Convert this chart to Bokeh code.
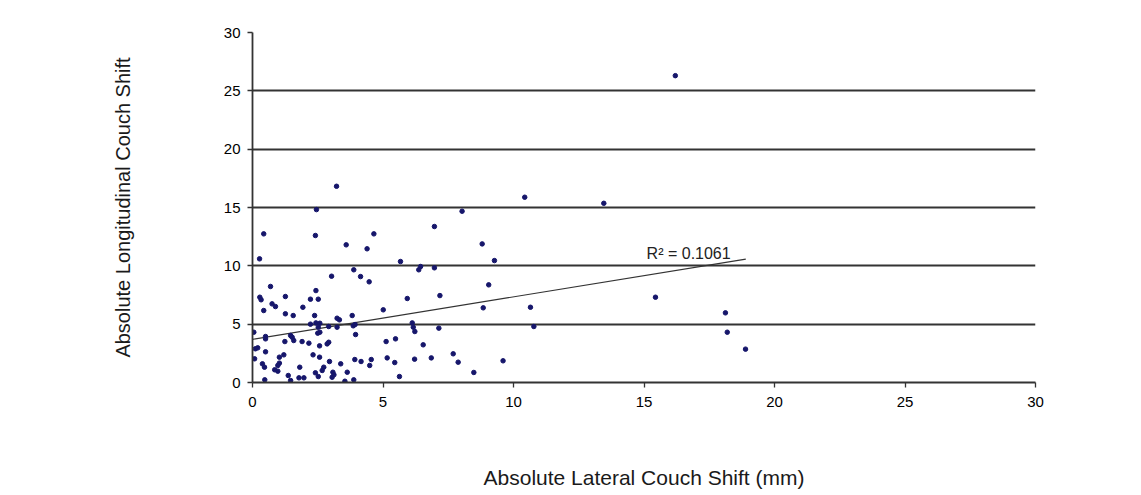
from bokeh.plotting import figure
from bokeh.models import Label, FixedTicker, Range1d
from bokeh.embed import file_html
from bokeh.resources import INLINE

lateral_mm = [
    10.43, 13.46, 8.03, 6.97, 8.80, 9.27, 6.97, 6.44, 6.37, 9.05, 7.18, 15.44, 8.84, 10.65,
    18.12, 7.14, 10.78, 18.19, 6.54, 18.89, 7.69, 6.85, 7.88, 9.60, 8.48, 16.2,
    3.22, 2.45, 0.43, 2.41, 4.65, 3.59, 4.39, 0.27, 5.67, 3.88, 4.14, 3.03, 4.47, 0.69,
    2.43, 0.28, 0.33, 1.26, 2.22, 2.52, 5.93, 0.75, 0.88, 0.43, 1.93, 5.01, 1.26, 1.56,
    2.38, 2.43, 2.22, 2.58, 3.24, 3.33, 3.82, 3.24, 3.86, 3.93, 2.92, 6.12, 6.16, 6.22,
    0.05, 0.50, 0.50, 2.52, 2.58, 2.50, 1.46, 1.52, 1.58, 1.90, 2.16, 1.24, 2.92, 2.86,
    2.57, 3.95, 5.12, 5.48, 0.11, 0.20, 0.50, 1.20, 1.03, 2.32, 2.57, 0.08, 3.92, 4.16,
    4.55, 4.49, 5.16, 5.45, 6.21, 2.95, 3.38, 0.38, 0.46, 1.03, 0.97, 0.85, 0.97, 1.81,
    2.73, 2.67, 2.41, 2.52, 3.08, 3.12, 3.05, 3.63, 1.37, 1.46, 1.78, 1.97, 0.47, 3.54,
    3.88, 5.63,
]
longitudinal_mm = [
    15.88, 15.36, 14.68, 13.37, 11.88, 10.45, 9.83, 9.94, 9.66, 8.37, 7.45, 7.31, 6.40, 6.45,
    5.97, 4.66, 4.80, 4.31, 3.23, 2.86, 2.46, 2.11, 1.74, 1.86, 0.86, 26.3,
    16.82, 14.82, 12.74, 12.60, 12.74, 11.80, 11.46, 10.60, 10.37, 9.66, 9.08, 9.11, 8.63, 8.23,
    7.88, 7.31, 7.09, 7.37, 7.14, 7.14, 7.20, 6.74, 6.51, 6.17, 6.45, 6.23, 5.89, 5.74,
    5.74, 5.11, 5.00, 5.08, 5.51, 5.37, 5.74, 4.74, 4.86, 4.97, 4.80, 5.11, 4.74, 4.37,
    4.31, 3.94, 3.74, 4.74, 4.31, 4.23, 4.03, 3.88, 3.60, 3.51, 3.37, 3.51, 3.45, 3.31,
    3.14, 4.11, 3.51, 3.74, 2.89, 2.97, 2.63, 2.37, 2.17, 2.37, 2.17, 2.03, 1.97, 1.80,
    1.97, 1.46, 2.11, 1.71, 2.00, 1.80, 1.60, 1.60, 1.31, 1.66, 1.46, 1.09, 0.97, 1.31,
    1.31, 1.03, 0.83, 0.51, 0.88, 0.66, 0.45, 0.88, 0.60, 0.17, 0.40, 0.40, 0.23, 0.11,
    0.23, 0.51,
]

trend_x = [0.0, 18.9]
trend_y = [3.7, 10.58]
r2_text = "R² = 0.1061"
r2_pos = (15.1, 10.3)

ticks = [0, 5, 10, 15, 20, 25, 30]

p = figure(width=1133, height=495, output_backend="svg", toolbar_location=None,
           x_range=Range1d(0, 30), y_range=Range1d(0, 30),
           min_border_left=252, min_border_right=98, min_border_top=32, min_border_bottom=113)
p.outline_line_color = None
p.background_fill_color = "white"

p.xgrid.grid_line_color = None
p.ygrid.grid_line_color = "#333333"
p.ygrid.grid_line_width = 1.8

for ax in (p.xaxis, p.yaxis):
    ax.ticker = FixedTicker(ticks=ticks)
    ax.axis_line_color = "#333333"
    ax.axis_line_width = 1.8
    ax.major_tick_line_color = "#333333"
    ax.major_tick_line_width = 1.3
    ax.major_tick_in = 0
    ax.major_tick_out = 5
    ax.minor_tick_line_color = None
    ax.major_label_text_font = "Liberation Sans"
    ax.major_label_text_font_size = "15px"
    ax.major_label_text_color = "black"
    ax.axis_label_text_font = "Liberation Sans"
    ax.axis_label_text_font_style = "normal"
    ax.axis_label_text_color = "#1a1a1a"

p.xaxis.major_label_standoff = 9
p.yaxis.major_label_standoff = 7
p.xaxis.axis_label = "Absolute Lateral Couch Shift (mm)"
p.xaxis.axis_label_text_font_size = "21px"
p.xaxis.axis_label_standoff = 56
p.yaxis.axis_label = "Absolute Longitudinal Couch Shift"
p.yaxis.axis_label_text_font_size = "20px"
p.yaxis.axis_label_standoff = 87

p.line(trend_x, trend_y, line_color="#333333", line_width=1.2)
p.scatter(lateral_mm, longitudinal_mm, size=4.5, color="#16166b", line_color="#16166b")

p.add_layout(Label(x=r2_pos[0], y=r2_pos[1], text=r2_text, text_font="Liberation Sans",
                   text_font_size="16px", text_color="#222222"))

open("out.html", "w").write(file_html(p, INLINE))
